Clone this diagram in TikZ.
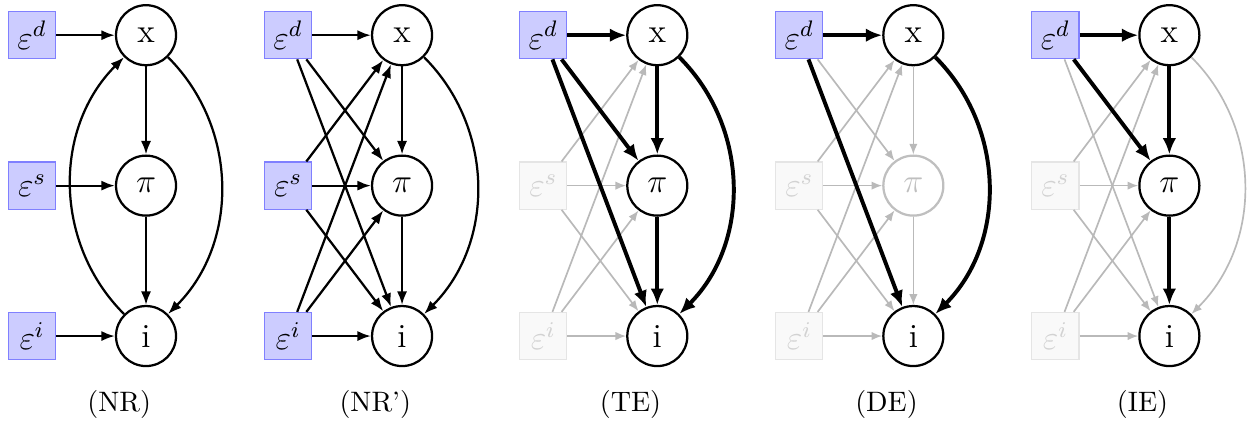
\documentclass[tikz,border=0pt]{standalone}
\usepackage{amsmath}
\usepackage{amssymb}
\usetikzlibrary{arrows.meta,positioning}

% one panel with all error terms feeding all variables
\newcommand{\errgraph}[3]{%
  \begin{scope}[#3]
    \node [errbox, nbd] (#1d) at (0.4,-0.44) {$\varepsilon^d$};
    \node [errbox, nbs] (#1s) at (0.4,-2.32) {$\varepsilon^s$};
    \node [errbox, nbi] (#1e) at (0.4,-4.2) {$\varepsilon^i$};
    \node [var, nvx] (#1x) at (1.825,-0.44) {x};
    \node [var, nvp] (#1p) at (1.825,-2.32) {$\pi$};
    \node [var, nvi] (#1i) at (1.825,-4.2) {i};
    \draw [esx] (#1s) -- (#1x);
    \draw [esp] (#1s) -- (#1p);
    \draw [esi] (#1s) -- (#1i);
    \draw [eix] (#1e) -- (#1x);
    \draw [eip] (#1e) -- (#1p);
    \draw [eii] (#1e) -- (#1i);
    \draw [edx] (#1d) -- (#1x);
    \draw [edp] (#1d) -- (#1p);
    \draw [edi] (#1d) -- (#1i);
    \draw [exp] (#1x) -- (#1p);
    \draw [epi] (#1p) -- (#1i);
    \draw [exi] (#1x) to [bend left=45] (#1i);
    \node (#1cap) at (1.49,-5.06) {#2};
  \end{scope}}

\begin{document}
\begin{tikzpicture}[
    errbox/.style={draw=blue!50, fill=blue!20, minimum size=0.59cm, inner sep=0pt, font=\large},
    dimbox/.style={draw=gray!20, fill=gray!5, text=gray!35},
    var/.style={circle, draw, thick, minimum size=0.75cm, inner sep=0pt, font=\large},
    dimvar/.style={draw=gray!50, text=gray!50},
    arr/.style={thick, -{Latex[length=4.8pt,width=3.6pt]}},
    bold/.style={line width=1.4pt, -{Latex[length=5.8pt,width=4.8pt]}},
    faint/.style={gray!55, semithick, -{Latex[length=3.8pt,width=3pt]}},
    setarr/.style={#1/.style={arr}},
    setbold/.style={#1/.style={bold}},
    setfaint/.style={#1/.style={faint}},
    setnone/.style={#1/.style={}},
    setarr/.list={edx,edp,edi,esx,esp,esi,eix,eip,eii,exp,epi,exi},
    setnone/.list={nbd,nbs,nbi,nvx,nvp,nvi}]
    \useasboundingbox (0,0) rectangle (15.66,-5.29);

    % (NR)
    \node [errbox] (ad) at (0.4,-0.44) {$\varepsilon^d$};
    \node [errbox] (as) at (0.4,-2.32) {$\varepsilon^s$};
    \node [errbox] (ae) at (0.4,-4.2) {$\varepsilon^i$};
    \node [var] (ax) at (1.825,-0.44) {x};
    \node [var] (ap) at (1.825,-2.32) {$\pi$};
    \node [var] (ai) at (1.825,-4.2) {i};
    \draw [arr] (ad) -- (ax);
    \draw [arr] (as) -- (ap);
    \draw [arr] (ae) -- (ai);
    \draw [arr] (ax) -- (ap);
    \draw [arr] (ap) -- (ai);
    \draw [arr] (ax) to [bend left=45] (ai);
    \draw [arr] (ai) to [bend left=45] (ax);
    \node (acap) at (1.49,-5.06) {(NR)};

    % (NR')
    \errgraph{b}{(NR')}{xshift=3.2cm}
    % (TE)
    \errgraph{c}{(TE)}{xshift=6.39cm,
      setbold/.list={edx,edp,edi,exp,epi,exi},
      setfaint/.list={esx,esp,esi,eix,eip,eii},
      nbs/.style={dimbox}, nbi/.style={dimbox}}
    % (DE)
    \errgraph{d}{(DE)}{xshift=9.59cm,
      setbold/.list={edx,edi,exi},
      setfaint/.list={edp,exp,epi,esx,esp,esi,eix,eip,eii},
      nbs/.style={dimbox}, nbi/.style={dimbox}, nvp/.style={dimvar}}
    % (IE)
    \errgraph{e}{(IE)}{xshift=12.79cm,
      setbold/.list={edx,edp,exp,epi},
      setfaint/.list={edi,exi,esx,esp,esi,eix,eip,eii},
      nbs/.style={dimbox}, nbi/.style={dimbox}}
\end{tikzpicture}
\end{document}
